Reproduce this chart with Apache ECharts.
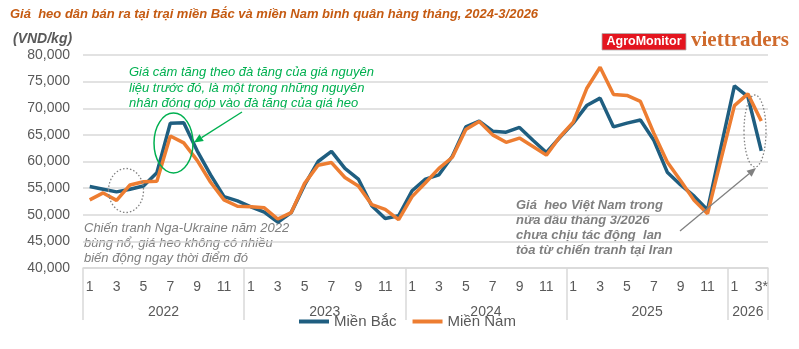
<!DOCTYPE html>
<html>
<head>
<meta charset="utf-8">
<script src="https://cdn.jsdelivr.net/npm/echarts@6/dist/echarts.min.js"></script>
<style>
html,body{margin:0;padding:0;background:#fff;}
#c{width:799px;height:349px;}
</style>
</head>
<body>
<div id="c"></div>
<script>
// ---- data ----
var monthLabels = [
  '1','2','3','4','5','6','7','8','9','10','11','12',
  '1','2','3','4','5','6','7','8','9','10','11','12',
  '1','2','3','4','5','6','7','8','9','10','11','12',
  '1','2','3','4','5','6','7','8','9','10','11','12',
  '1','2','3*'
];
var yearLabels = ['2022','2023','2024','2025','2026'];
var yearMonthCounts = [12, 12, 12, 12, 3];
var mienBac = [
  55300, 54800, 54300, 54800, 55400, 57900, 67200, 67300, 62000, 57500, 53400, 52600,
  51500, 50500, 48600, 50400, 55600, 60000, 61900, 58700, 56700, 51700, 49300, 49800,
  54500, 56700, 57500, 61000, 66500, 67600, 65700, 65500, 66400, 64000, 61700, 64500,
  67200, 70500, 71900, 66500, 67200, 67800, 64000, 58000, 55600, 53500, 50900, 62700,
  74200, 72200, 62000
];
var mienNam = [
  52800, 54100, 52700, 55600, 56200, 56300, 64800, 63500, 60200, 56100, 52800, 51600,
  51500, 51300, 49200, 50400, 55900, 59300, 59800, 57000, 55400, 51900, 51000, 49100,
  53400, 56000, 58700, 60800, 66000, 67500, 65000, 63600, 64400, 62800, 61200, 64600,
  67400, 73700, 77700, 72600, 72400, 71300, 65300, 59900, 56400, 52700, 50200, 60400,
  70500, 72700, 67600
];
var seriesNames = ['Miền Bắc', 'Miền Nam'];
var yTicks = {min: 40000, max: 80000, step: 5000};

// ---- derived ----
var boundaries = [0], centers = [], acc = 0;
yearMonthCounts.forEach(function (n) { centers.push(acc + n / 2); acc += n; boundaries.push(acc); });
var total = acc;

var FONT = "'Liberation Sans', Arial, sans-serif";
var chart = echarts.init(document.getElementById('c'), null, {renderer: 'canvas'});

function arrow(x1, y1, x2, y2, color, w, hl, hw) {
  var dx = x2 - x1, dy = y2 - y1, L = Math.sqrt(dx * dx + dy * dy);
  var ux = dx / L, uy = dy / L, px = -uy, py = ux;
  var bx = x2 - ux * hl, by = y2 - uy * hl;
  return [
    {type: 'line', silent: true, shape: {x1: x1, y1: y1, x2: bx, y2: by}, style: {stroke: color, lineWidth: w}, z: 50},
    {type: 'polygon', silent: true, shape: {points: [[x2, y2], [bx + px * hw, by + py * hw], [bx - px * hw, by - py * hw]]}, style: {fill: color}, z: 50}
  ];
}

var graphics = [
  {type: 'text', left: 13, top: 32, style: {text: '(VND/kg)', font: 'italic bold 14px ' + FONT, fill: '#595959'}},
  {type: 'rect', shape: {x: 602, y: 33.5, width: 84, height: 16.5}, style: {fill: '#e4151f', stroke: '#b0b0b0', lineWidth: 0.8}},
  {type: 'text', style: {x: 644, y: 42, text: 'AgroMonitor', font: 'bold 12.5px ' + FONT, fill: '#ffffff', align: 'center', verticalAlign: 'middle'}},
  {type: 'text', style: {x: 691, y: 41, text: 'viettraders', font: "bold 21px 'Liberation Serif', serif", fill: '#cf6a2c', align: 'left', verticalAlign: 'middle'}},
  {type: 'text', style: {x: 129, y: 65, text: 'Giá cám tăng theo đà tăng của giá nguyên\nliệu trước đó, là một trong những nguyên\nnhân đóng góp vào đà tăng của giá heo', font: 'italic 13px ' + FONT, fill: '#00b050', lineHeight: 15.5, verticalAlign: 'top'}},
  {type: 'ellipse', silent: true, shape: {cx: 173.5, cy: 143, rx: 19.5, ry: 30}, style: {fill: 'none', stroke: '#00b050', lineWidth: 1.5}, z: 50},
  {type: 'ellipse', silent: true, shape: {cx: 126, cy: 190.5, rx: 17.5, ry: 22}, style: {fill: 'none', stroke: '#808080', lineWidth: 1.3, lineDash: [1.5, 2]}, z: 50},
  {type: 'ellipse', silent: true, shape: {cx: 755, cy: 131, rx: 11, ry: 36}, style: {fill: 'none', stroke: '#808080', lineWidth: 1.3, lineDash: [1.5, 2]}, z: 50},
  {type: 'text', style: {x: 84, y: 220.5, text: 'Chiến tranh Nga-Ukraine năm 2022\nbùng nổ, giá heo không có nhiều\nbiến động ngay thời điểm đó', font: 'italic 13px ' + FONT, fill: '#7f7f7f', lineHeight: 15, verticalAlign: 'top'}},
  {type: 'text', style: {x: 516, y: 197.5, text: 'Giá  heo Việt Nam trong\nnửa đầu tháng 3/2026\nchưa chịu tác động  lan\ntỏa từ chiến tranh tại Iran', font: 'italic bold 13px ' + FONT, fill: '#7f7f7f', lineHeight: 15, verticalAlign: 'top'}}
].concat(arrow(242, 112, 194, 142.5, '#00b050', 1.3, 9, 4))
 .concat(arrow(680, 231, 756, 168, '#808080', 1.3, 9, 4));

chart.setOption({
  animation: false,
  backgroundColor: '#ffffff',
  textStyle: {fontFamily: FONT},
  title: {
    text: 'Giá  heo dân bán ra tại trại miền Bắc và miền Nam bình quân hàng tháng, 2024-3/2026',
    left: 10, top: 8, padding: 0,
    textStyle: {fontSize: 13, fontWeight: 'bold', fontStyle: 'italic', color: '#c55a11', fontFamily: FONT}
  },
  legend: {
    data: seriesNames, left: 299, top: 314, padding: 0,
    icon: 'rect', itemWidth: 30, itemHeight: 4, itemGap: 16,
    textStyle: {fontSize: 15, color: '#595959', fontFamily: FONT}
  },
  grid: {left: 83, right: 31, top: 55, bottom: 81, containLabel: false},
  xAxis: [
    {
      type: 'category', data: monthLabels, boundaryGap: true,
      axisLine: {show: true, lineStyle: {color: '#d9d9d9', width: 1.5}},
      axisTick: {show: false},
      axisLabel: {interval: 1, margin: 12, fontSize: 14, color: '#595959', fontFamily: FONT},
      splitLine: {show: false}
    },
    {
      type: 'value', min: 0, max: total, position: 'bottom', offset: 0,
      axisLine: {show: false},
      axisTick: {show: true, customValues: boundaries, length: 52, inside: false, lineStyle: {color: '#d9d9d9', width: 1.5}},
      axisLabel: {show: true, customValues: centers, margin: 37, fontSize: 14, color: '#595959', fontFamily: FONT,
        formatter: function (v) { var i = centers.indexOf(v); return i >= 0 ? yearLabels[i] : ''; }},
      splitLine: {show: false}
    }
  ],
  yAxis: {
    type: 'value', min: yTicks.min, max: yTicks.max, interval: yTicks.step,
    axisLine: {show: false}, axisTick: {show: false},
    axisLabel: {margin: 13, fontSize: 14, color: '#595959', fontFamily: FONT,
      formatter: function (v) { return v.toLocaleString('en-US'); }},
    splitLine: {lineStyle: {color: '#d9d9d9', width: 1.5}}
  },
  series: [
    {name: seriesNames[0], type: 'line', data: mienBac, showSymbol: false, symbol: 'none',
      lineStyle: {color: '#1f5e80', width: 3.5}, itemStyle: {color: '#1f5e80'}, z: 3},
    {name: seriesNames[1], type: 'line', data: mienNam, showSymbol: false, symbol: 'none',
      lineStyle: {color: '#ed7d31', width: 3.5}, itemStyle: {color: '#ed7d31'}, z: 4}
  ],
  graphic: graphics
});
</script>
</body>
</html>
